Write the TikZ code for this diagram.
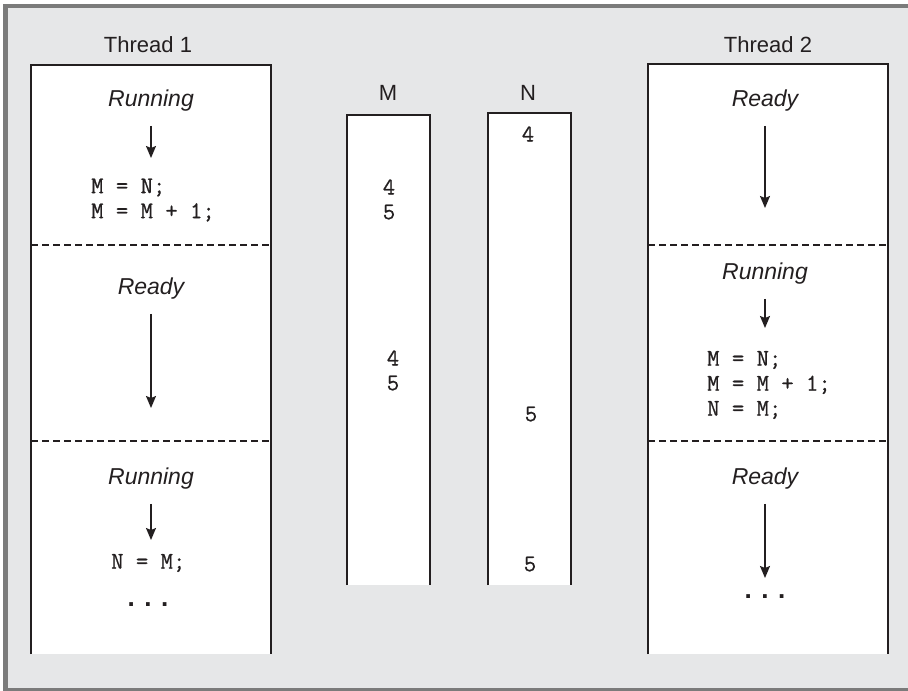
\documentclass[tikz,border=0pt]{standalone}
\usepackage{fontspec}
\setmainfont{Liberation Sans}
\newfontfamily\codefont{Latin Modern Mono}[FakeBold=0.7]
\usetikzlibrary{arrows.meta}

\definecolor{panel}{HTML}{E6E7E8}
\definecolor{frame}{HTML}{7B7B7B}
\definecolor{ink}{HTML}{231F20}

\begin{document}
\begin{tikzpicture}[x=1pt, y=-1pt,
    every node/.style={text=ink, font=\fontsize{22}{25}\selectfont},
    state/.style={font=\fontsize{23}{25}\selectfont\itshape, inner sep=2pt},
    code/.style={font=\codefont\fontsize{24}{25}\selectfont, align=left, anchor=west, inner sep=0pt},
    val/.style={font=\codefont\fontsize{24}{25}\selectfont, inner sep=0pt},
    more/.style={font=\fontsize{26}{25}\selectfont\bfseries, inner sep=0pt},
    flow/.style={draw=ink, line width=1.5pt, -{Stealth[length=12pt,width=10pt,inset=2pt]}, shorten <=12pt},
    box/.style={draw=ink, line width=2.4pt},
    split/.style={draw=ink, line width=2pt, dash pattern=on 7pt off 4pt}]

    % Panel
    \useasboundingbox (0,0) rectangle (908,691);
    \fill[white] (0,0) rectangle (908,691);
    \fill[frame] (3,4) rectangle (908,691);
    \fill[panel] (8,8) rectangle (908,688);

    % Open boxes: threads and variables
    \foreach \l/\r/\t/\b in {31/271/65/654, 347/430/115/585, 488/571/113/585, 648/888/64/654} {
        \fill[white] (\l,\t) rectangle (\r,\b);
        \draw[box] (\l,\b) -- (\l,\t) -- (\r,\t) -- (\r,\b);
    }
    % Time slices
    \foreach \y in {245,441} {
        \draw[split] (31,\y) -- (271,\y);
        \draw[split] (648,\y) -- (888,\y);
    }

    % Titles
    \node (th1) at (148,45) {Thread 1};
    \node (th2) at (768,45) {Thread 2};
    \node (colM) at (388,93) {M};
    \node (colN) at (528,93) {N};

    % Thread 1
    \node[state] (t1run1) at (151,101) {Running};
    \coordinate (t1end1) at (151,158);
    \node[code] (t1code1) at (91,200) {M = N;\\M = M + 1;};
    \node[state] (t1rdy) at (151,289) {Ready};
    \coordinate (t1end2) at (151,408);
    \node[state] (t1run2) at (151,479) {Running};
    \coordinate (t1end3) at (151,540);
    \node[code] (t1code2) at (111,563) {N = M;};
    \node[more] (t1more) at (148,605) {. . .};

    \draw[flow] (t1run1) -- (t1end1);
    \draw[flow] (t1rdy) -- (t1end2);
    \draw[flow] (t1run2) -- (t1end3);

    % Thread 2
    \node[state] (t2rdy1) at (765,101) {Ready};
    \coordinate (t2end1) at (765,208);
    \node[state] (t2run) at (765,274) {Running};
    \coordinate (t2end2) at (765,328);
    \node[code] (t2code) at (707,385) {M = N;\\M = M + 1;\\N = M;};
    \node[state] (t2rdy2) at (765,479) {Ready};
    \coordinate (t2end3) at (765,578);
    \node[more] (t2more) at (765,597) {. . .};

    \draw[flow] (t2rdy1) -- (t2end1);
    \draw[flow] (t2run) -- (t2end2);
    \draw[flow] (t2rdy2) -- (t2end3);

    % Values of M
    \node[val] (m1) at (389,187) {4};
    \node[val] (m2) at (389,212) {5};
    \node[val] (m3) at (393,358) {4};
    \node[val] (m4) at (393,383) {5};
    % Values of N
    \node[val] (n1) at (528,134) {4};
    \node[val] (n2) at (531,414) {5};
    \node[val] (n3) at (530,564) {5};

\end{tikzpicture}
\end{document}
